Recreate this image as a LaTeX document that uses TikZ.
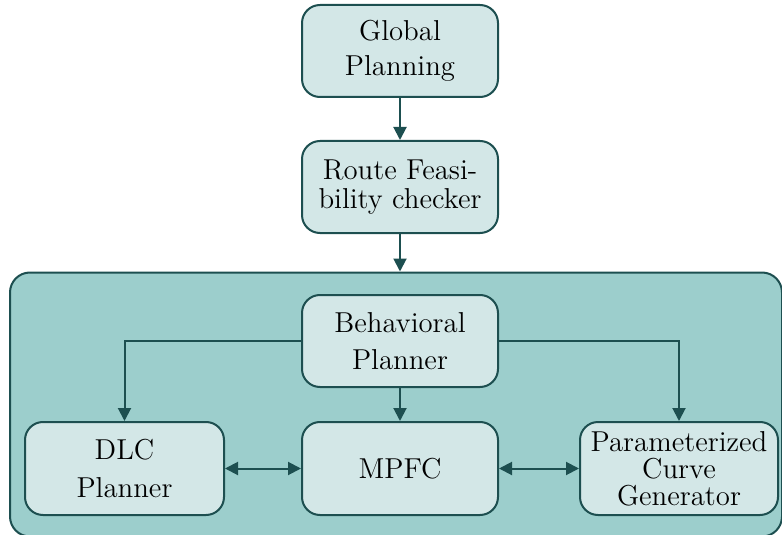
\documentclass[tikz,border=0pt]{standalone}
\usetikzlibrary{arrows.meta}
\definecolor{edgec}{HTML}{1D4F50}
\definecolor{lightc}{HTML}{D3E7E7}
\definecolor{midc}{HTML}{9CCECC}
\begin{document}
\begin{tikzpicture}[x=0.5pt,y=-0.5pt,
  blk/.style={draw=edgec, line width=1pt, fill=lightc, rounded corners=9pt, align=center, inner sep=0pt,
    font=\fontsize{14.4}{18.5}\selectfont},
  arr/.style={draw=edgec, line width=1pt, -{Triangle[length=6.5pt,width=6.5pt]}},
  dbl/.style={draw=edgec, line width=1pt, {Triangle[length=6.5pt,width=6.5pt]}-{Triangle[length=6.5pt,width=6.5pt]}}]
\useasboundingbox (0,0) rectangle (782,535);
\node[draw=edgec, line width=1pt, fill=midc, rounded corners=10pt, minimum width=386pt, minimum height=132pt, inner sep=0pt] (box) at (396,404.5) {};
\node[blk, minimum width=98pt, minimum height=46pt, font=\fontsize{14.4}{17.5}\selectfont] (gp) at (400,51) {Global\\Planning};
\node[blk, minimum width=98pt, minimum height=46pt, font=\fontsize{14.4}{14.5}\selectfont] (rf) at (400,187) {Route Feasi-\\bility checker};
\node[blk, minimum width=98pt, minimum height=46pt] (bp) at (400,341) {Behavioral\\Planner};
\node[blk, minimum width=99.5pt, minimum height=46.5pt, font=\fontsize{14.4}{19}\selectfont] (dlc) at (124.5,468.5) {DLC\\Planner};
\node[blk, minimum width=98pt, minimum height=46.5pt] (mpfc) at (400,468.5) {MPFC};
\node[blk, minimum width=99pt, minimum height=46.5pt, font=\fontsize{14.4}{13.5}\selectfont] (pcg) at (679,468.5) {Parameterized\\Curve\\Generator};
\draw[arr] (gp) -- (rf);
\draw[arr] (rf) -- (rf |- box.north);
\draw[arr] (bp.west) -| (dlc.north);
\draw[arr] (bp.east) -| (pcg.north);
\draw[arr] (bp) -- (mpfc);
\draw[dbl] (dlc) -- (mpfc);
\draw[dbl] (mpfc) -- (pcg);
\end{tikzpicture}
\end{document}
